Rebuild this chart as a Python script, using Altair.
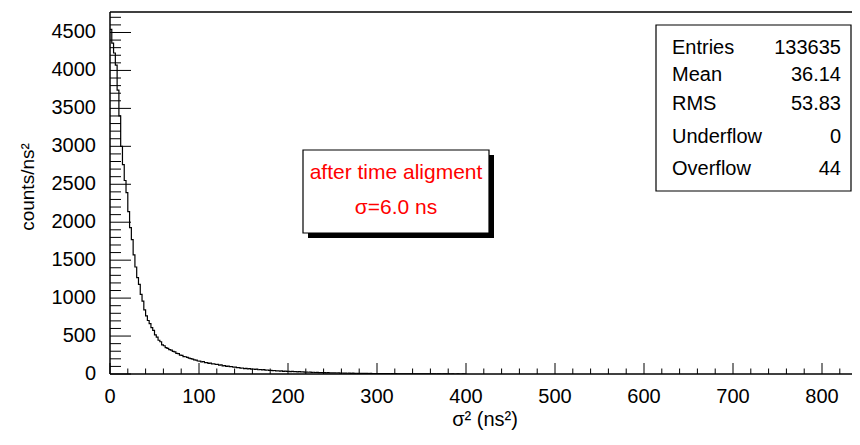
import altair as alt
import pandas as pd

# ---------------- data ----------------
bin_width = 2  # ns^2
# counts / ns^2 in consecutive bins starting at sigma^2 = 0
counts = [
    4540, 4360, 4230, 4070, 3740, 3400, 3000, 2760, 2550, 2390,
    2140, 1930, 1770, 1570, 1410, 1270, 1180, 1050, 960, 845,
    765, 705, 665, 610, 575, 515, 485, 445, 425, 385,
    372, 348, 338, 320, 315, 297, 291, 273, 268, 250,
    246, 230, 227, 219, 210, 203, 197, 185, 183, 171,
    170, 160, 165, 150, 151, 141, 143, 133, 135, 125,
    126, 117, 119, 108, 111, 101, 104, 96, 97, 89,
    91, 84, 85, 77, 79, 72, 73, 67, 70, 64,
    66, 60, 63, 56, 59, 54, 57, 51, 53, 48,
    49, 44, 46, 41, 43, 38, 40, 35, 37, 34,
    36, 32, 34, 30, 32, 28, 30, 27, 28, 25,
    26, 23, 25, 21, 23, 20, 21, 18, 20, 17,
    18, 16, 17, 15, 16, 14, 15, 13, 14, 12,
    13, 11, 12, 10, 12, 9, 11, 9, 10, 8,
    9, 7, 8, 7, 8, 6, 7, 5, 6, 5,
    6, 4, 5, 4, 5, 4, 4, 3, 4, 3,
    4, 3, 3, 2, 3, 2, 3, 2, 2, 2,
    3, 1, 2, 2, 1, 2, 1, 2, 1, 1,
    2, 1, 1, 0, 1, 1, 0, 1, 1, 0,
    1, 0, 1, 0, 0, 1, 0, 0, 1, 0,
]

x_major = [0, 100, 200, 300, 400, 500, 600, 700, 800]
y_major = [0, 500, 1000, 1500, 2000, 2500, 3000, 3500, 4000, 4500]
x_minor = [v for v in range(20, 831, 20) if v % 100 != 0]
y_minor = [v for v in range(100, 4701, 100) if v % 500 != 0]
x_max = 833.7
y_max = 4770

stats_labels = ["Entries", "Mean", "RMS", "Underflow", "Overflow"]
stats_values = ["133635", "36.14", "53.83", "0", "44"]
note_lines = ["after time aligment", "\u03c3=6.0 ns"]
x_title = "\u03c3\u00b2 (ns\u00b2)"
y_title = "counts/ns\u00b2"

# ---------------- layout ----------------
W, H = 742, 362
FONT = "Liberation Sans, Arial, Helvetica, sans-serif"

edges = [i * bin_width for i in range(len(counts) + 1)]
hist = pd.DataFrame({"x": edges, "y": counts + [counts[-1]]})

xs = alt.Scale(domain=[0, x_max], nice=False, zero=False)
ys = alt.Scale(domain=[0, y_max], nice=False)

line = alt.Chart(hist).mark_line(
    interpolate="step-after", color="black", strokeWidth=1.2, clip=True
).encode(
    x=alt.X("x:Q", scale=xs, axis=None),
    y=alt.Y("y:Q", scale=ys, axis=None),
)


def xticks(vals, length):
    return alt.Chart(pd.DataFrame({"v": vals})).mark_rule(color="black", strokeWidth=1).encode(
        x=alt.X("v:Q", scale=xs, axis=None), y=alt.value(H), y2=alt.value(H - length))


def yticks(vals, length):
    return alt.Chart(pd.DataFrame({"v": vals})).mark_rule(color="black", strokeWidth=1).encode(
        y=alt.Y("v:Q", scale=ys, axis=None), x=alt.value(0), x2=alt.value(length))


x_labels = alt.Chart(pd.DataFrame({"v": x_major})).mark_text(
    align="center", baseline="middle", font=FONT, fontSize=20, color="black"
).encode(x=alt.X("v:Q", scale=xs, axis=None), y=alt.value(H + 23), text="v:Q")

y_labels = alt.Chart(pd.DataFrame({"v": y_major})).mark_text(
    align="right", baseline="middle", font=FONT, fontSize=20, color="black"
).encode(y=alt.Y("v:Q", scale=ys, axis=None), x=alt.value(-14), text="v:Q")

one = alt.Data(values=[{"a": 1}])


def frame_line(**enc):
    return alt.Chart(one).mark_rule(color="black", strokeWidth=1.5).encode(**enc)


def box(x1, y1, x2, y2, fill, stroke=None, sw=1.2):
    kw = dict(fill=fill)
    if stroke:
        kw.update(stroke=stroke, strokeWidth=sw)
    return alt.Chart(one).mark_rect(**kw).encode(
        x=alt.value(x1), x2=alt.value(x2), y=alt.value(y1), y2=alt.value(y2))


def label(txt, px, py, align="left", color="black", size=20, angle=0):
    return alt.Chart(alt.Data(values=[{"t": txt}])).mark_text(
        align=align, baseline="middle", font=FONT, fontSize=size, color=color, angle=angle
    ).encode(text="t:N", x=alt.value(px), y=alt.value(py))


layers = [
    line,
    xticks(x_major, 11), xticks(x_minor, 5.5),
    yticks(y_major, 21), yticks(y_minor, 11),
    frame_line(x=alt.value(0), x2=alt.value(W), y=alt.value(0)),
    frame_line(x=alt.value(0), y=alt.value(0), y2=alt.value(H)),
    frame_line(x=alt.value(0), x2=alt.value(W), y=alt.value(H)),
    x_labels, y_labels,
    label(x_title, 375, 408, "center", size=20),
    label(y_title, -82, 175, "center", size=19, angle=270),
    # stats box
    box(546, 13, 741, 179, "white", "black", 1.2),
]
row_y = [36, 62.5, 92, 124.5, 157]
for lab, val, ry in zip(stats_labels, stats_values, row_y):
    layers.append(label(lab, 562, ry, "left", size=20))
    layers.append(label(val, 731, ry, "right", size=20))

# annotation box with shadow
layers.append(box(198, 143, 384, 226, "black"))
layers.append(box(193, 138, 379, 221, "white", "black", 1.2))
layers.append(label(note_lines[0], 286, 161, "center", "#ff0000", 21))
layers.append(label(note_lines[1], 286, 196, "center", "#ff0000", 21))

chart = alt.layer(*layers).properties(
    width=W, height=H,
    autosize=alt.AutoSizeParams(type="none"),
    padding={"left": 102, "top": 4, "right": 0, "bottom": 59},
    background="white",
).configure_view(stroke=None)

chart.save("out.html", embed_options={"renderer": "svg", "actions": False})
